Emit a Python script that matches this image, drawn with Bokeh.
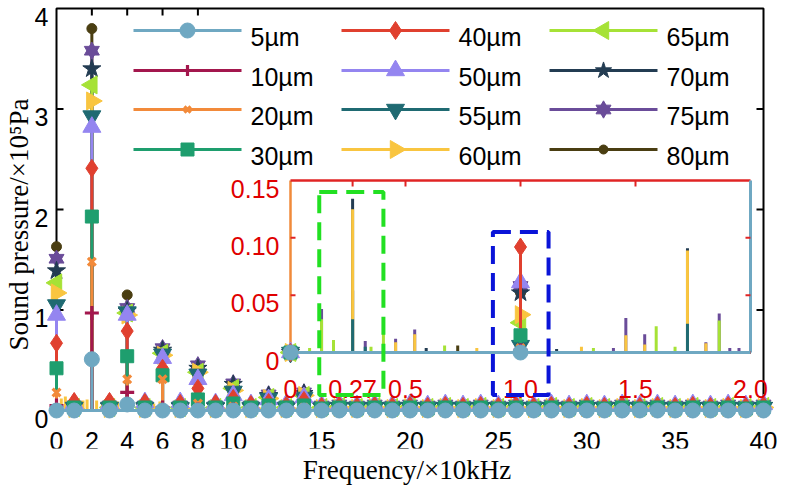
import math
from bokeh.plotting import figure
from bokeh.models import Range1d, FixedTicker, BoxAnnotation
from bokeh.core.properties import value
from bokeh.embed import file_html
from bokeh.resources import INLINE

# ---------------- data ----------------
LABELS = ["5µm", "10µm", "20µm", "30µm", "40µm", "50µm",
          "55µm", "60µm", "65µm", "70µm", "75µm", "80µm"]
COLORS = ["#6fa8c2", "#a3174d", "#f28a3a", "#1e9e6e", "#e0402f", "#9485f0",
          "#1f6a72", "#f9c540", "#a6e236", "#233c52", "#6a4c99", "#4a3e12"]

# main chart: frequency (x10 kHz) of the sampled points
FREQ = [0, 1, 2, 3, 4, 5, 6, 7, 8, 9,
        10, 11, 12, 13, 14, 15, 16, 17, 18, 19,
        20, 21, 22, 23, 24, 25, 26, 27, 28, 29,
        30, 31, 32, 33, 34, 35, 36, 37, 38, 39, 40]

MAIN_5 = [0, 0, 0.51, 0, 0.06, 0, 0, 0, 0, 0,
          0, 0, 0, 0, 0, 0, 0, 0, 0, 0,
          0, 0, 0, 0, 0, 0, 0, 0, 0, 0,
          0, 0, 0, 0, 0, 0, 0, 0, 0, 0, 0]
MAIN_10 = [0.05, 0, 0.97, 0, 0.18, 0, 0.03, 0, 0.01, 0,
           0.01, 0, 0, 0, 0, 0, 0, 0, 0, 0,
           0, 0, 0, 0, 0, 0, 0, 0, 0, 0,
           0, 0, 0, 0, 0, 0, 0, 0, 0, 0, 0]
MAIN_20 = [0.18, 0.01, 1.48, 0.01, 0.31, 0.01, 0.31, 0.01, 0.07, 0.01,
           0.04, 0.01, 0.03, 0.01, 0.03, 0.02, 0.02, 0.02, 0.02, 0.02,
           0.02, 0.02, 0.02, 0.02, 0.02, 0.02, 0.02, 0.02, 0.02, 0.02,
           0.02, 0.02, 0.02, 0.02, 0.02, 0.02, 0.02, 0.02, 0.02, 0.02, 0.02]
MAIN_30 = [0.42, 0.03, 1.93, 0.03, 0.54, 0.03, 0.35, 0.03, 0.11, 0.03,
           0.07, 0.03, 0.05, 0.03, 0.05, 0.02, 0.03, 0.02, 0.03, 0.02,
           0.03, 0.02, 0.03, 0.02, 0.03, 0.02, 0.03, 0.02, 0.03, 0.02,
           0.03, 0.02, 0.03, 0.02, 0.03, 0.02, 0.03, 0.02, 0.03, 0.02, 0.03]
MAIN_40 = [0.67, 0.09, 2.41, 0.09, 0.79, 0.08, 0.42, 0.07, 0.22, 0.07,
           0.12, 0.06, 0.08, 0.05, 0.10, 0.04, 0.05, 0.04, 0.05, 0.04,
           0.05, 0.04, 0.05, 0.04, 0.05, 0.04, 0.05, 0.04, 0.05, 0.04,
           0.05, 0.04, 0.05, 0.04, 0.05, 0.04, 0.05, 0.04, 0.05, 0.04, 0.05]
MAIN_50 = [0.95, 0.07, 2.82, 0.07, 0.95, 0.08, 0.52, 0.08, 0.31, 0.07,
           0.15, 0.06, 0.11, 0.06, 0.13, 0.05, 0.06, 0.05, 0.06, 0.05,
           0.06, 0.05, 0.06, 0.05, 0.06, 0.05, 0.06, 0.05, 0.06, 0.05,
           0.06, 0.05, 0.06, 0.05, 0.06, 0.05, 0.06, 0.05, 0.06, 0.05, 0.06]
MAIN_55 = [1.05, 0.03, 2.93, 0.03, 0.98, 0.03, 0.56, 0.03, 0.36, 0.03,
           0.19, 0.03, 0.12, 0.03, 0.13, 0.03, 0.03, 0.03, 0.03, 0.03,
           0.03, 0.03, 0.03, 0.03, 0.03, 0.03, 0.03, 0.03, 0.03, 0.03,
           0.03, 0.03, 0.03, 0.03, 0.03, 0.03, 0.03, 0.03, 0.03, 0.03, 0.03]
MAIN_60 = [1.17, 0.02, 3.08, 0.02, 0.95, 0.02, 0.55, 0.02, 0.38, 0.02,
           0.20, 0.02, 0.12, 0.02, 0.15, 0.02, 0.03, 0.02, 0.03, 0.02,
           0.03, 0.02, 0.03, 0.02, 0.03, 0.02, 0.03, 0.02, 0.03, 0.02,
           0.03, 0.02, 0.03, 0.02, 0.03, 0.02, 0.03, 0.02, 0.03, 0.02, 0.03]
MAIN_65 = [1.27, 0.03, 3.24, 0.03, 0.97, 0.03, 0.57, 0.03, 0.38, 0.03,
           0.22, 0.03, 0.13, 0.03, 0.15, 0.03, 0.04, 0.03, 0.04, 0.03,
           0.04, 0.03, 0.04, 0.03, 0.04, 0.03, 0.04, 0.03, 0.04, 0.03,
           0.04, 0.03, 0.04, 0.03, 0.04, 0.03, 0.04, 0.03, 0.04, 0.03, 0.04]
MAIN_70 = [1.39, 0.04, 3.40, 0.04, 0.99, 0.04, 0.60, 0.04, 0.42, 0.04,
           0.26, 0.04, 0.15, 0.04, 0.17, 0.04, 0.05, 0.04, 0.05, 0.04,
           0.05, 0.04, 0.05, 0.04, 0.05, 0.04, 0.05, 0.04, 0.05, 0.04,
           0.05, 0.04, 0.05, 0.04, 0.05, 0.04, 0.05, 0.04, 0.05, 0.04, 0.05]
MAIN_75 = [1.51, 0.05, 3.58, 0.05, 1.02, 0.05, 0.62, 0.05, 0.45, 0.05,
           0.27, 0.05, 0.16, 0.05, 0.18, 0.05, 0.06, 0.05, 0.06, 0.05,
           0.06, 0.05, 0.06, 0.05, 0.06, 0.05, 0.06, 0.05, 0.06, 0.05,
           0.06, 0.05, 0.06, 0.05, 0.06, 0.05, 0.06, 0.05, 0.06, 0.05, 0.06]
MAIN_80 = [1.63, 0.02, 3.80, 0.02, 1.15, 0.02, 0.55, 0.02, 0.40, 0.02,
           0.20, 0.02, 0.12, 0.02, 0.14, 0.02, 0.03, 0.02, 0.03, 0.02,
           0.03, 0.02, 0.03, 0.02, 0.03, 0.02, 0.03, 0.02, 0.03, 0.02,
           0.03, 0.02, 0.03, 0.02, 0.03, 0.02, 0.03, 0.02, 0.03, 0.02, 0.03]
SERIES_MAIN = [MAIN_5, MAIN_10, MAIN_20, MAIN_30, MAIN_40, MAIN_50,
               MAIN_55, MAIN_60, MAIN_65, MAIN_70, MAIN_75, MAIN_80]

# small 60µm side peaks between the sampled points (main chart)
MINOR60_F = [0.27, 0.5, 1.5, 1.73, 2.27, 2.6, 3.45, 5.5, 5.85, 6.7]
MINOR60_P = [0.12, 0.14, 0.10, 0.11, 0.10, 0.07, 0.09, 0.07, 0.09, 0.06]

# inset: peak frequencies and amplitude of each series at them
INSET_F = [0.0, 0.083, 0.135, 0.187, 0.27, 0.325, 0.35,
           0.404, 0.457, 0.54, 0.59, 0.67, 0.727, 0.81,
           1.0, 1.157, 1.265, 1.317, 1.404, 1.458, 1.54,
           1.59, 1.672, 1.726, 1.806, 1.864, 1.91, 1.95]
INSET_5 = [0, 0, 0, 0, 0, 0, 0,  0, 0, 0, 0, 0, 0, 0,
           0, 0, 0, 0, 0, 0, 0,  0, 0, 0, 0, 0, 0, 0]
INSET_10 = [0, 0, 0, 0, 0, 0, 0,  0, 0, 0, 0, 0, 0, 0,
            0.002, 0, 0, 0, 0, 0, 0,  0, 0, 0, 0, 0, 0, 0]
INSET_20 = [0, 0, 0, 0, 0, 0, 0,  0, 0, 0, 0, 0, 0, 0,
            0.004, 0, 0, 0, 0, 0, 0,  0, 0, 0, 0, 0, 0, 0]
INSET_30 = [0, 0, 0, 0, 0, 0, 0,  0, 0, 0, 0, 0, 0, 0,
            0.015, 0, 0, 0, 0, 0, 0,  0, 0, 0, 0, 0, 0, 0]
INSET_40 = [0, 0, 0, 0, 0, 0, 0,  0, 0, 0, 0, 0, 0, 0,
            0.092, 0, 0, 0, 0, 0, 0,  0, 0, 0, 0, 0, 0, 0]
INSET_50 = [0, 0, 0, 0, 0, 0, 0,  0, 0, 0, 0, 0, 0, 0,
            0.061, 0, 0, 0, 0, 0, 0,  0, 0, 0, 0, 0, 0, 0]
INSET_55 = [0, 0, 0, 0, 0.029, 0.005, 0,  0, 0, 0, 0, 0, 0, 0,
            0.006, 0, 0, 0, 0, 0, 0,  0, 0, 0.025, 0, 0, 0, 0]
INSET_60 = [0, 0, 0, 0, 0.125, 0, 0,  0, 0.009, 0.016, 0, 0, 0, 0.004,
            0.033, 0, 0.005, 0, 0, 0.015, 0.007,  0, 0, 0.089, 0.008, 0, 0, 0]
INSET_65 = [0, 0.004, 0.029, 0.011, 0, 0, 0.005,  0.017, 0, 0, 0, 0.006, 0, 0,
            0.026, 0, 0, 0.004, 0, 0, 0,  0.023, 0.005, 0, 0, 0.028, 0, 0]
INSET_70 = [0, 0, 0, 0, 0.134, 0, 0,  0, 0, 0, 0.004, 0, 0, 0,
            0.052, 0.003, 0, 0, 0, 0, 0,  0, 0, 0.091, 0, 0, 0, 0]
INSET_75 = [0, 0, 0.038, 0, 0, 0.010, 0,  0, 0.012, 0.020, 0, 0, 0, 0,
            0.058, 0, 0, 0, 0.004, 0.030, 0.016,  0, 0, 0, 0.009, 0.034, 0.004, 0.004]
INSET_80 = [0, 0, 0, 0, 0.054, 0, 0,  0, 0, 0, 0, 0, 0.006, 0,
            0.052, 0, 0, 0, 0, 0, 0,  0, 0, 0, 0, 0, 0, 0]
SERIES_INSET = [INSET_5, INSET_10, INSET_20, INSET_30, INSET_40, INSET_50,
                INSET_55, INSET_60, INSET_65, INSET_70, INSET_75, INSET_80]
INSET_MARK_F = [0.0, 1.0]

# ticks / limits
X_TICKS = [0, 2, 4, 6, 8, 10, 15, 20, 25, 30, 35, 40]
X_TICK_LABELS = ["0", "2", "4", "6", "8", "10", "15", "20", "25", "30", "35", "40"]
Y_TICKS = [0, 1, 2, 3, 4]
Y_TICK_LABELS = ["0", "1", "2", "3", "4"]
TOP_TICKS = [2, 4, 6, 8]
SIDE_TICKS = [1, 2, 3]
XLIM = (0, 40)
YLIM = (0, 4)
AXIS_FLOOR = -0.05
INSET_XLIM = (0.0, 2.0)
INSET_YLIM = (0.0, 0.15)
INSET_X_TICKS = [0, 0.27, 0.5, 1.0, 1.5, 2.0]
INSET_X_LABELS = ["0", "0.27", "0.5", "1.0", "1.5", "2.0"]
INSET_Y_TICKS = [0, 0.05, 0.10, 0.15]
INSET_Y_LABELS = ["0", "0.05", "0.10", "0.15"]
INSET_TOP_TICKS = [0.27, 0.5, 1.0, 1.5]
INSET_SIDE_TICKS = [0.05, 0.10]
GREEN_BOX = (0.125, 0.404, -0.037, 0.140)   # left, right, bottom, top (inset units)
BLUE_BOX = (0.88, 1.122, -0.037, 0.105)

# ---------------- layout (page pixels) ----------------
BORDER_L, BORDER_R, BORDER_T, BORDER_B = 33, 0, 0, 38
FRAME_W, FRAME_H = 745, 448
FRAME_L = 8 + BORDER_L
FRAME_R = FRAME_L + FRAME_W
FRAME_T = 8 + BORDER_T
FRAME_B = FRAME_T + FRAME_H
PX_X0, PX_X40 = 63, 770      # where frequency 0 and 40 fall
PX_Y0, PX_Y4 = 418, 16       # where pressure 0 and 4 fall
INSET_L, INSET_R, INSET_T, INSET_B = 297, 757, 188, 360
TXT = "25px"
TXT_DY = 7                   # shift that centres digits on their anchor

kx = (PX_X40 - PX_X0) / (XLIM[1] - XLIM[0])
ky = (PX_Y0 - PX_Y4) / (YLIM[1] - YLIM[0])
x_range = Range1d(XLIM[0] - (PX_X0 - FRAME_L) / kx, XLIM[1] + (FRAME_R - PX_X40) / kx)
y_range = Range1d(YLIM[0] - (FRAME_B - PX_Y0) / ky, YLIM[1] + (PX_Y4 - FRAME_T) / ky)

p = figure(frame_width=FRAME_W, frame_height=FRAME_H, x_range=x_range, y_range=y_range,
           output_backend="svg", toolbar_location=None,
           min_border_left=BORDER_L, min_border_right=BORDER_R,
           min_border_top=BORDER_T, min_border_bottom=BORDER_B)
p.grid.visible = False
p.outline_line_color = None
p.background_fill_color = "white"
p.border_fill_color = "white"

sx = (INSET_R - INSET_L) / (INSET_XLIM[1] - INSET_XLIM[0])
sy = (INSET_B - INSET_T) / (INSET_YLIM[1] - INSET_YLIM[0])
p.extra_x_ranges = {
    "ix": Range1d(INSET_XLIM[0] - (INSET_L - FRAME_L) / sx, INSET_XLIM[1] + (FRAME_R - INSET_R) / sx),
    "px": Range1d(FRAME_L, FRAME_R),
}
p.extra_y_ranges = {
    "iy": Range1d(INSET_YLIM[0] - (FRAME_B - INSET_B) / sy, INSET_YLIM[1] + (INSET_T - FRAME_T) / sy),
    "py": Range1d(FRAME_B, FRAME_T),
}

# axes carry the titles; tick labels are drawn next to the frame lines
for ax in (p.xaxis[0], p.yaxis[0]):
    ax.ticker = FixedTicker(ticks=[])
    ax.axis_line_color = None
    ax.major_tick_line_color = None
    ax.minor_tick_line_color = None
    ax.major_tick_out = 0
    ax.major_tick_in = 0
    ax.axis_label_text_font = "Liberation Serif"
    ax.axis_label_text_font_size = "27px"
    ax.axis_label_text_font_style = "normal"
    ax.axis_label_text_color = "black"
p.xaxis.axis_label_standoff = 6
p.yaxis.axis_label_standoff = 1
p.yaxis.bounds = YLIM
p.xaxis.axis_label = "Frequency/×10kHz"
p.yaxis.axis_label = "Sound pressure/×10⁵Pa"

p.text(x=X_TICKS, y=0, text=X_TICK_LABELS, text_align="center", text_baseline="middle",
       y_offset=23 + TXT_DY, text_color="black", text_font=value("Liberation Sans"),
       text_font_size=TXT)
p.text(x=XLIM[0], y=Y_TICKS, text=Y_TICK_LABELS, text_align="right", text_baseline="middle",
       x_offset=-8, y_offset=1 + TXT_DY, text_color="black", text_font=value("Liberation Sans"),
       text_font_size=TXT)

# main frame
p.line(x=[XLIM[0], XLIM[0], XLIM[1], XLIM[1]], y=[AXIS_FLOOR, YLIM[1], YLIM[1], AXIS_FLOOR],
       line_color="black", line_width=2)
p.ray(x=TOP_TICKS, y=YLIM[1], length=7, angle=-math.pi / 2, length_units="screen",
      line_color="black", line_width=2)
p.ray(x=XLIM[0], y=SIDE_TICKS, length=7, angle=0, length_units="screen",
      line_color="black", line_width=2)
p.ray(x=XLIM[1], y=SIDE_TICKS, length=7, angle=math.pi, length_units="screen",
      line_color="black", line_width=2)

MARKERS = [
    [("circle", 15, 0)],
    [("cross", 14, 0)],
    [("x", 11, 0)],
    [("square", 13, 0)],
    [("diamond", 18, 0)],
    [("triangle", 18, 0)],
    [("inverted_triangle", 18, 0)],
    [("triangle", 18, -math.pi / 2)],
    [("triangle", 18, math.pi / 2)],
    [("star", 19, 0)],
    [("triangle", 15, 0), ("inverted_triangle", 15, 0)],
    [("circle", 10, 0)],
]
LEGEND_SCALE = [1.0, 0.8, 0.8, 1.0, 1.0, 1.0, 1.0, 1.0, 1.0, 0.9, 1.0, 0.9]
LINE_ONLY = {"cross", "x"}


def add_markers(xs, ys, i, rx="default", ry="default", scale=1.0):
    for m, s, a in MARKERS[i]:
        kw = dict(x=xs, y=ys, marker=m, size=s * scale, angle=a, line_color=COLORS[i],
                  x_range_name=rx, y_range_name=ry)
        if m in LINE_ONLY:
            kw.update(line_width=3.2)
        else:
            kw.update(fill_color=COLORS[i], line_width=1)
        p.scatter(**kw)


for i in reversed(range(len(LABELS))):
    c = COLORS[i]
    p.line(x=[XLIM[0], XLIM[1]], y=[0, 0], line_color=c, line_width=3)
    p.segment(x0=FREQ, y0=0, x1=FREQ, y1=SERIES_MAIN[i], line_color=c, line_width=3)
    if LABELS[i] == "60µm":
        p.segment(x0=MINOR60_F, y0=0, x1=MINOR60_F, y1=MINOR60_P, line_color=c, line_width=3)
    add_markers(FREQ, SERIES_MAIN[i], i)

# inset frame
IX = dict(x_range_name="ix", y_range_name="iy")
p.line(x=[INSET_XLIM[0], INSET_XLIM[0]], y=list(INSET_YLIM), line_color="#f08a3a", line_width=2.5, **IX)
p.line(x=list(INSET_XLIM), y=[INSET_YLIM[1], INSET_YLIM[1]], line_color="#e02424", line_width=2.5, **IX)
p.line(x=[INSET_XLIM[1], INSET_XLIM[1]], y=list(INSET_YLIM), line_color="#6fa8c2", line_width=3, **IX)
p.ray(x=INSET_TOP_TICKS, y=INSET_YLIM[1], length=6, angle=-math.pi / 2, length_units="screen",
      line_color="#e02424", line_width=2, **IX)
p.ray(x=INSET_XLIM[0], y=INSET_SIDE_TICKS, length=5, angle=0, length_units="screen",
      line_color="#e02424", line_width=2, **IX)
p.ray(x=INSET_XLIM[1], y=INSET_SIDE_TICKS, length=5, angle=math.pi, length_units="screen",
      line_color="#e02424", line_width=2, **IX)

for i in reversed(range(len(LABELS))):
    c = COLORS[i]
    p.line(x=list(INSET_XLIM), y=[0, 0], line_color=c, line_width=3, **IX)
    p.segment(x0=INSET_F, y0=0, x1=INSET_F, y1=SERIES_INSET[i], line_color=c, line_width=3, **IX)
    mk = [SERIES_INSET[i][INSET_F.index(f)] for f in INSET_MARK_F]
    add_markers(INSET_MARK_F, mk, i, "ix", "iy")

p.text(x=INSET_X_TICKS, y=0, text=INSET_X_LABELS, text_align="center", text_baseline="middle",
       y_offset=29 + TXT_DY, text_color="#e00000", text_font=value("Liberation Sans"),
       text_font_size=TXT, **IX)
p.text(x=0, y=INSET_Y_TICKS, text=INSET_Y_LABELS, text_align="right", text_baseline="middle",
       x_offset=-11, y_offset=1 + TXT_DY, text_color="#e00000", text_font=value("Liberation Sans"),
       text_font_size=TXT, **IX)

for box, col in ((GREEN_BOX, "#22e022"), (BLUE_BOX, "#0a14d8")):
    p.add_layout(BoxAnnotation(left=box[0], right=box[1], bottom=box[2], top=box[3],
                               fill_color=None, fill_alpha=0, line_color=col, line_alpha=1.0,
                               line_width=4, line_dash="18 9", **IX))

# legend: three columns of four, placed in page pixels
PX = dict(x_range_name="px", y_range_name="py")
LEG_COL_X = [140, 348, 556]
LEG_ROW_Y = [38, 78, 117, 157]
LEG_LINE_LEN = 108
LEG_TEXT_GAP = 117
for k in range(len(LABELS)):
    x0 = LEG_COL_X[k // 4]
    y0 = LEG_ROW_Y[k % 4]
    p.line(x=[x0, x0 + LEG_LINE_LEN], y=[y0, y0], line_color=COLORS[k], line_width=3, **PX)
    add_markers([x0 + LEG_LINE_LEN / 2], [y0], k, "px", "py", LEGEND_SCALE[k])
    p.text(x=[x0 + LEG_TEXT_GAP], y=[y0], text=[LABELS[k]], text_align="left",
           text_baseline="middle", y_offset=TXT_DY - 1, text_color="black",
           text_font=value("Liberation Sans"), text_font_size=TXT, **PX)

open("out.html", "w").write(file_html(p, INLINE))
